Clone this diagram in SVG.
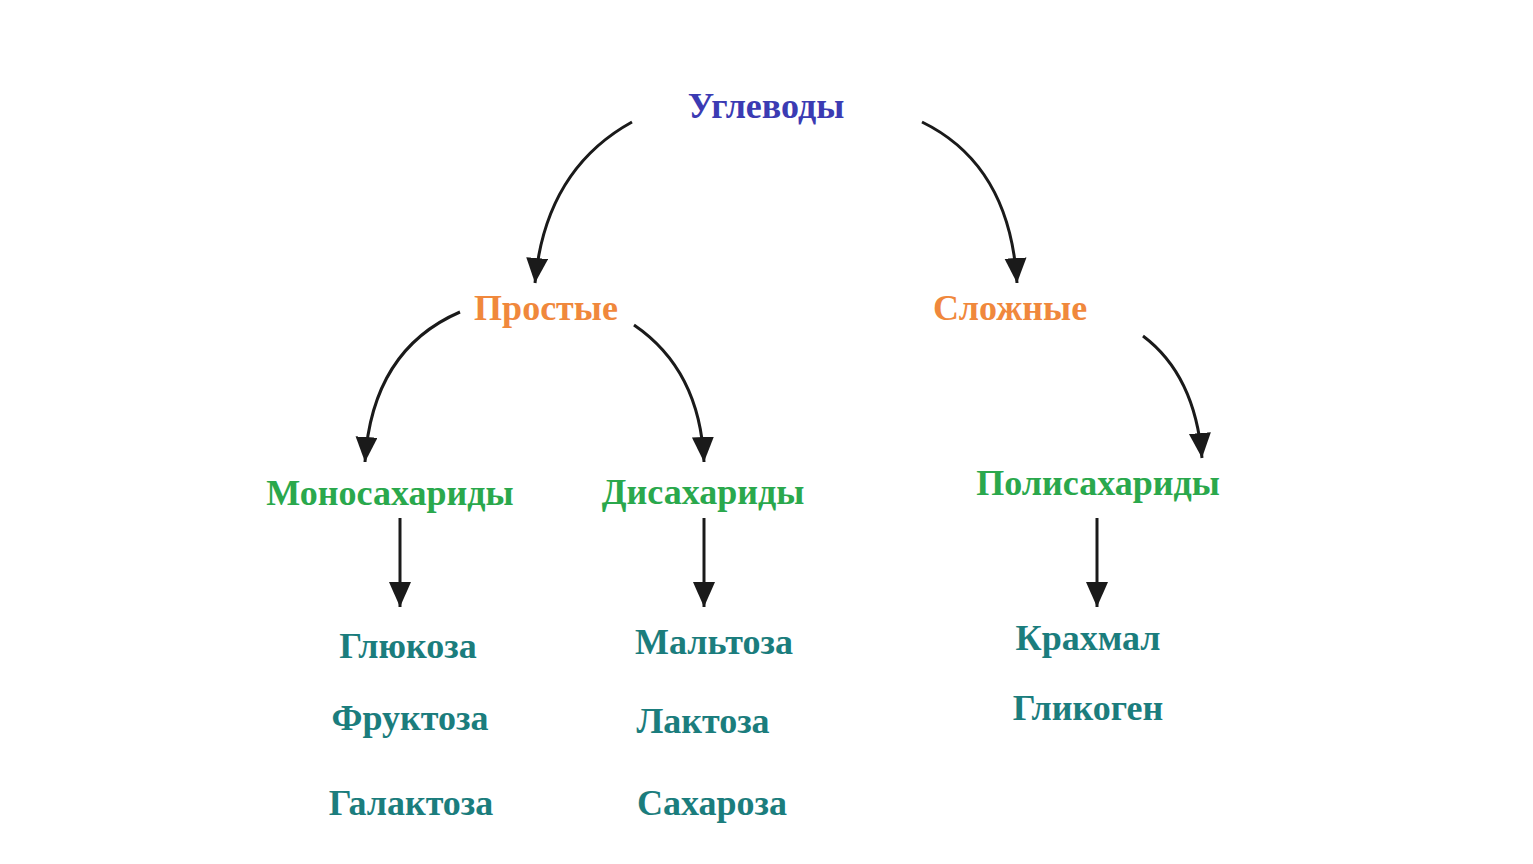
<svg xmlns="http://www.w3.org/2000/svg" width="1533" height="864" viewBox="0 0 1533 864">
<style>
text{font-family:"Liberation Serif","Times New Roman",serif;font-weight:bold;font-size:36px;text-anchor:middle}
.b{fill:#3b3bb3}.o{fill:#f0883c}.g{fill:#2aa84c}.t{fill:#1b7d7d}
.c{fill:none;stroke:#1a1a1a;stroke-width:3;marker-end:url(#a)}
</style>
<defs><marker id="a" markerUnits="userSpaceOnUse" markerWidth="26" markerHeight="24" refX="25" refY="11" orient="auto"><path d="M0,0 L25,11 L0,22 Z" fill="#1a1a1a"/></marker></defs>
<rect width="1533" height="864" fill="#fff"/>
<g id="connectors">
<path class="c" d="M632,122 Q545,170 535,283"/>
<path class="c" d="M922,122 Q1010,165 1017,283"/>
<path class="c" d="M460,312 Q372,350 365,462"/>
<path class="c" d="M634,325 Q700,370 704,462"/>
<path class="c" d="M1143,336 Q1195,375 1202,458"/>
<path class="c" d="M400,518 L400,607"/>
<path class="c" d="M704,518 L704,607"/>
<path class="c" d="M1097,518 L1097,607"/>
</g>
<g id="n-root"><text class="b" x="766" y="118">Углеводы</text></g>
<g id="n-simple"><text class="o" x="546" y="320">Простые</text></g>
<g id="n-complex"><text class="o" x="1010" y="320">Сложные</text></g>
<g id="n-mono"><text class="g" x="390" y="505">Моносахариды</text></g>
<g id="n-di"><text class="g" x="703" y="504">Дисахариды</text></g>
<g id="n-poly"><text class="g" x="1098" y="495">Полисахариды</text></g>
<g id="n-mono-list"><text class="t" x="408" y="658">Глюкоза</text><text class="t" x="410" y="730">Фруктоза</text><text class="t" x="411" y="815">Галактоза</text></g>
<g id="n-di-list"><text class="t" x="714" y="654">Мальтоза</text><text class="t" x="703" y="733">Лактоза</text><text class="t" x="712" y="815">Сахароза</text></g>
<g id="n-poly-list"><text class="t" x="1088" y="650">Крахмал</text><text class="t" x="1088" y="720">Гликоген</text></g>
</svg>
